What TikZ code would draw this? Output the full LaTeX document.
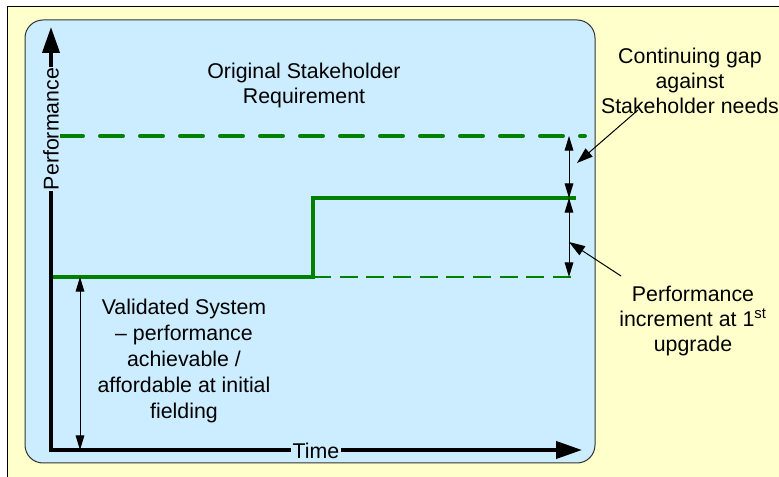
\documentclass[tikz,border=0pt]{standalone}
\usepackage{fontspec}
\setmainfont{Liberation Sans}
\usetikzlibrary{arrows.meta}
\definecolor{paper}{HTML}{FFFFCC}
\definecolor{panel}{HTML}{CCECFF}
\definecolor{curve}{HTML}{008000}
\begin{document}
\begin{tikzpicture}[x=0.75pt,y=-0.75pt,
  lbl/.style={font=\fontsize{16}{18.75}\selectfont, align=center, inner sep=0pt, anchor=north},
  axislbl/.style={font=\fontsize{16}{18.75}\selectfont, fill=panel, inner sep=1pt},
  axis/.style={line width=3pt,
    {Triangle[length=19.5pt,width=12.75pt]}-{Triangle[length=19.5pt,width=12.75pt]}},
  dim/.style={line width=0.75pt,
    {Triangle[length=11pt,width=6.5pt]}-{Triangle[length=11pt,width=6.5pt]}},
  callout/.style={line width=0.75pt, -{Triangle[length=12pt,width=8pt]}},
  target/.style={curve, line width=3pt, line cap=round, dash pattern=on 17.25pt off 12.75pt},
  baseline level/.style={curve, line width=1.9pt, dash pattern=on 13.5pt off 6.5pt},
  achieved/.style={curve, line width=3pt}
]
\useasboundingbox (0,0) rectangle (779,477);
\fill[white] (0,0) rectangle (779,477);

% page and chart panel
\draw[fill=paper, line width=0.75pt] (7,7) rectangle (800,500);
\draw[fill=panel, draw=black!80, line width=0.75pt, rounded corners=13.5pt] (25,20) rectangle (595,463);

% key points
\coordinate (O) at (51,450);
\coordinate (Ytip) at (51,27);
\coordinate (Xtip) at (582,450);
\coordinate (d1) at (569,136);
\coordinate (d2) at (569,198);
\coordinate (d3) at (569,277);
\coordinate (v1) at (80,277);
\coordinate (v2) at (80,450);

% performance levels
\draw[target] (60,136) -- (585,136);
\draw[baseline level] (313,277) -- (572,277);
\draw[achieved] (51,277) -- (313,277) -- (313,198) -- (576,198);

% axes
\draw[axis] (Ytip) -- (O) -- (Xtip);
\node[axislbl, rotate=90] (perf) at (51,129) {Performance};
\node[axislbl] (time) at (316,451) {Time};

% dimension arrows
\draw[dim] (d1) -- (d2);
\draw[dim] (d2) -- (d3);
\draw[dim] (v1) -- (v2);

% texts
\node[lbl] (req) at (304,62.7) {Original Stakeholder\\Requirement};
\node[lbl] (gap) at (690,47.7) {Continuing gap\\against\\Stakeholder needs};
\node[lbl, font=\fontsize{16}{19.5}\selectfont] (valid) at (184,298.7)
  {Validated System\\– performance\\achievable /\\affordable at initial\\fielding};
\node[lbl] (incr) at (693,285.7) {Performance\\increment at 1\textsuperscript{st}\\upgrade};

% callouts
\coordinate (gapfoot) at (638,110);
\coordinate (gaptip) at (577,163);
\coordinate (incrfoot) at (621,276);
\coordinate (incrtip) at (569,242);
\draw[callout] (gapfoot) -- (gaptip);
\draw[callout] (incrfoot) -- (incrtip);
\end{tikzpicture}
\end{document}
